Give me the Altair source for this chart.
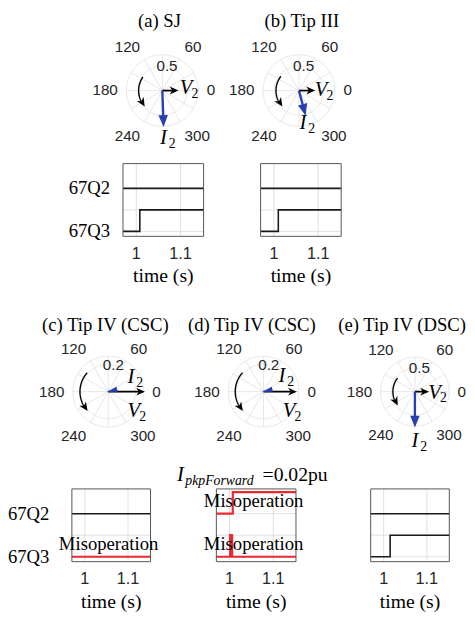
import altair as alt
import numpy as np
import pandas as pd

# ============================ data ============================
panel_titles = ["(a) SJ", "(b) Tip III", "(c) Tip IV (CSC)", "(d) Tip IV (CSC)", "(e) Tip IV (DSC)"]
r_max = [0.73, 0.73, 0.26, 0.26, 0.73]
r_tick = [0.5, 0.5, 0.2, 0.2, 0.5]
v2_mag = [0.33, 0.33, 0.27, 0.245, 0.30]
v2_ang = [0, 0, 0, 0, 0]
i2_mag = [0.74, 0.53, 0.012, 0.012, 0.76]
i2_ang = [272, 285, 195, 195, 270]
theta_ticks = [0, 60, 120, 180, 240, 300]
theta_grid = [0, 30, 60, 90, 120, 150, 180, 210, 240, 270, 300, 330]

time_ticks = [1.0, 1.1]
time_tick_labels = ["1", "1.1"]
time_span = [0.97, 1.152]
sig_names = ["67Q2", "67Q3"]
sig_level = [2, 0]
q2_t = [[0.97, 1.152], [0.97, 1.152], [0.97, 1.152], [0.97, 1.0075, 1.152], [0.97, 1.152]]
q2_s = [[0, 0], [0, 0], [0, 0], [0, 1, 1], [0, 0]]
q3_t = [[0.97, 1.008, 1.152], [0.97, 1.010, 1.152], [0.97, 1.152],
        [0.97, 1.0015, 1.006, 1.152], [0.97, 1.015, 1.152]]
q3_s = [[0, 1, 1], [0, 1, 1], [0, 0], [0, 1, 0, 0], [0, 1, 1]]
q2_misop = [False, False, False, True, False]
q3_misop = [False, False, True, True, False]
misop_text = "Misoperation"
pkp_text = ["I", "pkpForward", "=0.02pu"]

# ============================ layout / style ============================
OFF = 8
SERIF = "Liberation Serif"
SANS = "Liberation Sans"
GRID = "#e4e4e4"
TGRID = "#dddddd"
TXT = "#262626"
BLUE = "#2a40b2"
RED = "#ee2830"

pol_cx = [165, 304, 110, 268, 422]
pol_cy = [86.7, 86.7, 393, 393, 393]
pol_R = [36.5, 36.5, 36, 36, 35]
LAB_R = 1.24
title_off = [(-0.08, 1.95), (0.08, 1.95), (-0.08, 1.87), (-0.33, 1.87), (-0.37, 1.92)]
lab_V = [(0.66, 0.06), (0.62, 0.02), (0.72, -0.56), (0.72, -0.56), (0.57, -0.03)]
lab_I = [(0.03, -1.32), (0.11, -0.90), (0.64, 0.42), (0.52, 0.44), (0.0, -1.43)]
curve = [(0.66, 145, 222), (0.64, 142, 224), (0.80, 138, 223), (0.80, 138, 223), (0.64, 142, 219)]
i2_head = [(12, 0.4), (12, 0.4), (11, 0.25), (11, 0.25), (12, 0.4)]

box_px = [(125, 207, 161, 235), (265, 347, 161, 235), (73, 153, 492, 566),
          (220, 301, 492, 566), (377, 457, 492, 566)]
y_span = [-0.23, 3.15]
ylab_t = [0.941, None, 0.918, None, None]


def sc(dom, rng):
    return alt.Scale(domain=dom, range=rng, zero=False, nice=False)


def pos(sx, sy, xf="x", yf="y"):
    return {"x": alt.X(f"{xf}:Q", scale=sx, axis=None),
            "y": alt.Y(f"{yf}:Q", scale=sy, axis=None)}


def head_path(w):
    return f"M0,0L{w},1L-{w},1Z"


BARB = "M0,0L0.45,1L0,0.7L-0.45,1Z"

layers = []

# ============================ polar panels ============================
for i in range(5):
    rm, R = r_max[i], pol_R[i]
    cx, cy = pol_cx[i] - OFF, pol_cy[i] - OFF
    sx = sc([-rm, rm], [cx - R, cx + R])
    sy = sc([-rm, rm], [cy + R, cy - R])
    P = pos(sx, sy)
    u = rm / R  # data units per pixel

    ang = np.linspace(0, 2 * np.pi, 145)
    ring_df = pd.DataFrame([{"ring": rr, "k": k, "x": rr * np.cos(a), "y": rr * np.sin(a)}
                            for rr in (r_tick[i], rm) for k, a in enumerate(ang)])
    layers.append(alt.Chart(ring_df).mark_line(color=GRID, strokeWidth=0.9)
                  .encode(**P, detail="ring:N", order="k:Q"))
    spoke_df = pd.DataFrame({"x": [0.0] * len(theta_grid), "y": [0.0] * len(theta_grid),
                             "x2": [rm * np.cos(np.radians(t)) for t in theta_grid],
                             "y2": [rm * np.sin(np.radians(t)) for t in theta_grid]})
    layers.append(alt.Chart(spoke_df).mark_rule(color=GRID, strokeWidth=0.9)
                  .encode(**P, x2="x2:Q", y2="y2:Q"))

    rows = []
    for t in theta_ticks:
        c, s = np.cos(np.radians(t)), np.sin(np.radians(t))
        al = "left" if c > 1e-6 else ("right" if c < -1e-6 else "center")
        bl = "alphabetic" if s > 1e-6 else ("top" if s < -1e-6 else "middle")
        rows.append({"x": LAB_R * rm * c, "y": LAB_R * rm * s, "lab": str(t), "al": al, "bl": bl})
    adf = pd.DataFrame(rows)
    for (al, bl), g in adf.groupby(["al", "bl"]):
        layers.append(alt.Chart(g).mark_text(align=al, baseline=bl, font=SANS, fontSize=15.5, color=TXT)
                      .encode(**P, text="lab:N"))

    rt = np.radians(79)
    layers.append(alt.Chart(pd.DataFrame({"x": [r_tick[i] * np.cos(rt)], "y": [r_tick[i] * np.sin(rt)],
                                          "lab": [f"{r_tick[i]:g}"]}))
                  .mark_text(font=SANS, fontSize=15.5, color=TXT).encode(**P, text="lab:N"))

    layers.append(alt.Chart(pd.DataFrame({"x": [title_off[i][0] * rm], "y": [title_off[i][1] * rm],
                                          "lab": [panel_titles[i]]}))
                  .mark_text(font=SERIF, fontSize=19, color="black").encode(**P, text="lab:N"))

    # rotation arrow
    f, a0, a1 = curve[i]
    rr = f * rm
    hl = 9
    span = np.degrees(hl / (f * R))
    arc_a = np.radians(np.linspace(a0, a1 - 0.6 * span, 40))
    cdf = pd.DataFrame({"k": list(range(40)), "x": rr * np.cos(arc_a), "y": rr * np.sin(arc_a)})
    layers.append(alt.Chart(cdf).mark_line(color="black", strokeWidth=1.4).encode(**P, order="k:Q"))
    hdf = pd.DataFrame({"x": [rr * np.cos(np.radians(a1))], "y": [rr * np.sin(np.radians(a1))],
                        "rot": [(-(a1 - span / 2)) % 360]})
    layers.append(alt.Chart(hdf).mark_point(shape=BARB, filled=True, opacity=1, strokeWidth=0,
                                            color="black", size=4 * hl * hl)
                  .encode(**P, angle=alt.Angle("rot:Q", scale=None)))

    # phasors
    for mag, a, col, sw, L, w in [(v2_mag[i], v2_ang[i], "black", 1.8, 9, None),
                                  (i2_mag[i], i2_ang[i], BLUE, 2.4, i2_head[i][0], i2_head[i][1])]:
        th = np.radians(a)
        tx, ty = mag * np.cos(th), mag * np.sin(th)
        shaft = mag - 0.6 * L * u
        if shaft > 0:
            layers.append(alt.Chart(pd.DataFrame({"x": [0.0], "y": [0.0],
                                                  "x2": [shaft * np.cos(th)], "y2": [shaft * np.sin(th)]}))
                          .mark_rule(color=col, strokeWidth=sw).encode(**P, x2="x2:Q", y2="y2:Q"))
        shp = BARB if w is None else head_path(w)
        layers.append(alt.Chart(pd.DataFrame({"x": [tx], "y": [ty], "rot": [(90 - a) % 360]}))
                      .mark_point(shape=shp, filled=True, opacity=1, strokeWidth=0, color=col, size=4 * L * L)
                      .encode(**P, angle=alt.Angle("rot:Q", scale=None)))

    let_df = pd.DataFrame({"x": [lab_V[i][0] * rm, lab_I[i][0] * rm],
                           "y": [lab_V[i][1] * rm, lab_I[i][1] * rm], "lab": ["V", "I"]})
    layers.append(alt.Chart(let_df).mark_text(font=SERIF, fontStyle="italic", fontSize=21, color="black")
                  .encode(**P, text="lab:N"))
    sub_df = pd.DataFrame({"x": let_df["x"] + 9 * u, "y": let_df["y"] - 6 * u, "lab": ["2", "2"]})
    layers.append(alt.Chart(sub_df).mark_text(font=SERIF, fontSize=14, color="black")
                  .encode(**P, text="lab:N"))

# ============================ timing panels ============================
for j in range(5):
    l, r, t, b = box_px[j]
    sx = sc(time_span, [l - OFF, r - OFF])
    sy = sc(y_span, [b - OFF, t - OFF])

    gv = pd.DataFrame({"t": time_ticks, "y0": [y_span[0]] * 2, "y1": [y_span[1]] * 2})
    layers.append(alt.Chart(gv).mark_rule(color=TGRID, strokeWidth=0.9)
                  .encode(**pos(sx, sy, "t", "y0"), y2="y1:Q"))
    gh = pd.DataFrame({"v": [0, 1, 2], "t0": [time_span[0]] * 3, "t1": [time_span[1]] * 3})
    layers.append(alt.Chart(gh).mark_rule(color=TGRID, strokeWidth=0.9)
                  .encode(**pos(sx, sy, "t0", "v"), x2="t1:Q"))

    rows = []
    for name, lev, ts, ss, mis in [(sig_names[0], sig_level[0], q2_t[j], q2_s[j], q2_misop[j]),
                                   (sig_names[1], sig_level[1], q3_t[j], q3_s[j], q3_misop[j])]:
        for k, (tt, s) in enumerate(zip(ts, ss)):
            rows.append({"sig": name, "k": k, "t": tt, "v": lev + s,
                         "col": RED if mis else "#1a1a1a", "sw": 2.2 if mis else 1.6})
    sdf = pd.DataFrame(rows)
    layers.append(alt.Chart(sdf).mark_line(interpolate="step-after")
                  .encode(**pos(sx, sy, "t", "v"), detail="sig:N", order="k:Q",
                          color=alt.Color("col:N", scale=None),
                          strokeWidth=alt.StrokeWidth("sw:Q", scale=None)))

    bdf = pd.DataFrame({"t0": [time_span[0]], "t1": [time_span[1]], "y0": [y_span[0]], "y1": [y_span[1]]})
    layers.append(alt.Chart(bdf).mark_rect(fillOpacity=0, stroke="#555555", strokeWidth=1)
                  .encode(**pos(sx, sy, "t0", "y0"), x2="t1:Q", y2="y1:Q"))

    tdf = pd.DataFrame({"t": time_ticks, "y": [-1.05] * 2, "lab": time_tick_labels})
    layers.append(alt.Chart(tdf).mark_text(font=SANS, fontSize=16.5, color=TXT)
                  .encode(**pos(sx, sy, "t", "y"), text="lab:N"))
    xl = pd.DataFrame({"t": [sum(time_span) / 2], "y": [-2.1], "lab": ["time (s)"]})
    layers.append(alt.Chart(xl).mark_text(font=SERIF, fontSize=20, color="black")
                  .encode(**pos(sx, sy, "t", "y"), text="lab:N"))

    if ylab_t[j] is not None:
        yl = pd.DataFrame({"t": [ylab_t[j]] * 2, "y": sig_level, "lab": sig_names})
        layers.append(alt.Chart(yl).mark_text(font=SERIF, fontSize=19, color="black", align="right")
                      .encode(**pos(sx, sy, "t", "y"), text="lab:N"))

    mis_levels = [lev for lev, m in zip(sig_level, [q2_misop[j], q3_misop[j]]) if m]
    if mis_levels:
        mdf = pd.DataFrame({"t": [1.055] * len(mis_levels), "y": [lv + 0.6 for lv in mis_levels],
                            "lab": [misop_text] * len(mis_levels)})
        layers.append(alt.Chart(mdf).mark_text(font=SERIF, fontSize=19, color="black")
                      .encode(**pos(sx, sy, "t", "y"), text="lab:N"))

    if j == 3:
        pk = [(pkp_text[0], 0.880, 3.52, 21, "italic"),
              (pkp_text[1], 0.899, 3.33, 14, "italic"),
              (pkp_text[2], 1.0756, 3.52, 20, "normal")]
        for txt, tt, yy, fs, st in pk:
            layers.append(alt.Chart(pd.DataFrame({"t": [tt], "y": [yy], "lab": [txt]}))
                          .mark_text(font=SERIF, fontSize=fs, fontStyle=st, color="black",
                                     align="left", baseline="alphabetic")
                          .encode(**pos(sx, sy, "t", "y"), text="lab:N"))

chart = (alt.layer(*layers)
         .resolve_scale(x="independent", y="independent")
         .properties(width=467, height=610, padding=0, autosize=alt.AutoSizeParams(type="none"))
         .configure_view(stroke=None))

chart.save("out.html", embed_options={"renderer": "svg", "actions": False})
